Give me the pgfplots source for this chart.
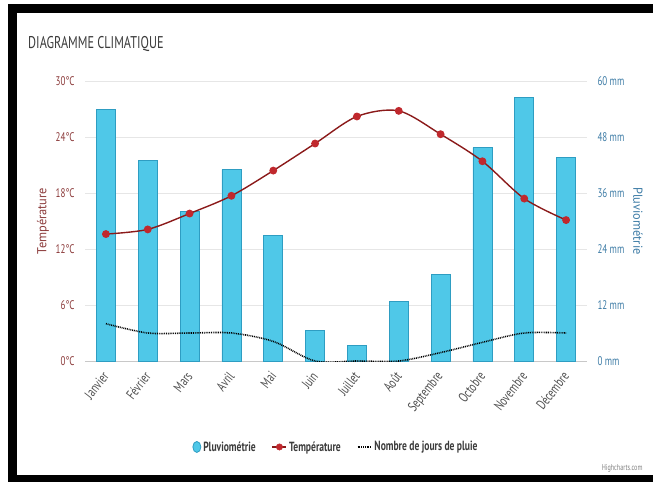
\documentclass[border=0pt]{standalone}
\usepackage{fontspec}
\setmainfont{PT Sans}[FakeStretch=0.72]
\newfontfamily\vfont{PT Sans}[FakeStretch=0.95]
\usepackage{pgfplots}
\pgfplotsset{compat=1.18}

\definecolor{titlegray}{HTML}{3B3B3B}
\definecolor{tempred}{HTML}{8B3A3A}
\definecolor{rainblue}{HTML}{3E7CA6}
\definecolor{gridgray}{HTML}{E6E6E6}
\definecolor{axisgray}{HTML}{C8C8C8}
\definecolor{barfill}{HTML}{4FC8E8}
\definecolor{barline}{HTML}{2E9DC2}
\definecolor{templine}{HTML}{8B1A1A}
\definecolor{tempmark}{HTML}{C0282D}

\begin{document}
\begin{tikzpicture}
\path[use as bounding box] (0pt,0pt) rectangle (653pt,482pt);

% pluviometrie (axe de droite) + grille
\begin{axis}[
    at={(85pt,121pt)}, anchor=south west,
    scale only axis, width=502pt, height=280pt,
    xmin=-0.5, xmax=11.5, ymin=0, ymax=60,
    axis x line*=bottom, axis y line*=right,
    x axis line style={axisgray, line width=1pt},
    y axis line style={draw=none},
    major tick length=0pt,
    xtick={0,...,11},
    xticklabels={Janvier,Février,Mars,Avril,Mai,Juin,Juillet,Août,Septembre,Octobre,Novembre,Décembre},
    x tick label style={xshift=2pt, yshift=-10pt, rotate=52, anchor=east,
                        font=\fontsize{14}{15}\selectfont, color=titlegray!90},
    ytick={0,12,...,60},
    yticklabels={0 mm,12 mm,24 mm,36 mm,48 mm,60 mm},
    y tick label style={font=\fontsize{12.5}{14}\selectfont, color=rainblue, xshift=7pt},
    ymajorgrids, grid style={gridgray, line width=1pt},
    ylabel={Pluviométrie},
    ylabel style={at={(axis description cs:1.1016,0.5)}, rotate=180, anchor=center,
                  font=\vfont\fontsize{13}{14}\selectfont, color=rainblue},
    /pgf/number format/assume math mode=true,
]
\addplot[ybar, bar width=19pt, fill=barfill, draw=barline, line width=0.8pt] coordinates {
    (0,54) (1,43) (2,32) (3,41) (4,27) (5,6.5)
    (6,3.4) (7,12.7) (8,18.6) (9,45.7) (10,56.5) (11,43.6)
};
\end{axis}

% temperature et jours de pluie (axe de gauche)
\begin{axis}[
    at={(85pt,121pt)}, anchor=south west,
    scale only axis, width=502pt, height=280pt,
    xmin=-0.5, xmax=11.5, ymin=0, ymax=30,
    axis x line=none, axis y line*=left,
    y axis line style={draw=none},
    major tick length=0pt,
    ytick={0,6,...,30},
    yticklabels={0°C,6°C,12°C,18°C,24°C,30°C},
    y tick label style={font=\fontsize{12.5}{14}\selectfont, color=tempred, xshift=-7pt},
    ylabel={Température},
    ylabel style={at={(axis description cs:-0.0837,0.5)}, anchor=center,
                  font=\vfont\fontsize{13}{14}\selectfont, color=tempred},
    legend columns=3,
    legend style={at={(0.5,-0.307)}, anchor=center, draw=none, fill=none,
                  font=\bfseries\fontsize{13.3}{15}\selectfont, text=titlegray,
                  /tikz/every even column/.append style={column sep=14pt}},
    legend cell align=left,
    /pgf/number format/assume math mode=true,
]
\addlegendimage{legend image code/.code={\fill[barfill, draw=barline, line width=0.8pt] (8pt,0pt) ellipse (4pt and 5.5pt);}}
\addlegendentry{Pluviométrie}
\addlegendimage{legend image code/.code={\draw[templine, line width=1.5pt] (0pt,0pt)--(14pt,0pt); \fill[tempmark] (7pt,0pt) circle (3.2pt);}}
\addlegendentry{Température}
\addlegendimage{legend image code/.code={\draw[black, line width=1.6pt, dash pattern=on 0.9pt off 0.9pt] (0pt,0pt)--(14pt,0pt);}}
\addlegendentry{Nombre de jours de pluie}

\addplot[black, line width=1.6pt, dash pattern=on 0.9pt off 0.9pt, smooth, tension=0.5] coordinates {
    (0,4) (1,3) (2,3) (3,3) (4,2.1) (5,0)
    (6,0) (7,0) (8,0.9) (9,2) (10,3) (11,3)
};
\addplot[templine, line width=1.4pt, smooth, tension=0.5,
         mark=*, mark size=3.2pt, mark options={fill=tempmark, draw=tempmark}] coordinates {
    (0,13.6) (1,14.1) (2,15.8) (3,17.7) (4,20.4) (5,23.3)
    (6,26.2) (7,26.8) (8,24.3) (9,21.4) (10,17.4) (11,15.1)
};
\end{axis}

% titre, credit, cadre
\node[anchor=west, inner sep=0pt, font=\fontsize{17}{18}\selectfont, color=titlegray] at (28pt,438pt) {DIAGRAMME CLIMATIQUE};
\node[anchor=east, font=\fontsize{8.5}{9}\selectfont, color=gray] at (646pt,14pt) {Highcharts.com};
\fill[black] (8pt,0pt) rectangle (17pt,478pt);
\fill[black] (8pt,469pt) rectangle (653pt,478pt);
\fill[black] (8pt,0pt) rectangle (653pt,7pt);
\end{tikzpicture}
\end{document}
